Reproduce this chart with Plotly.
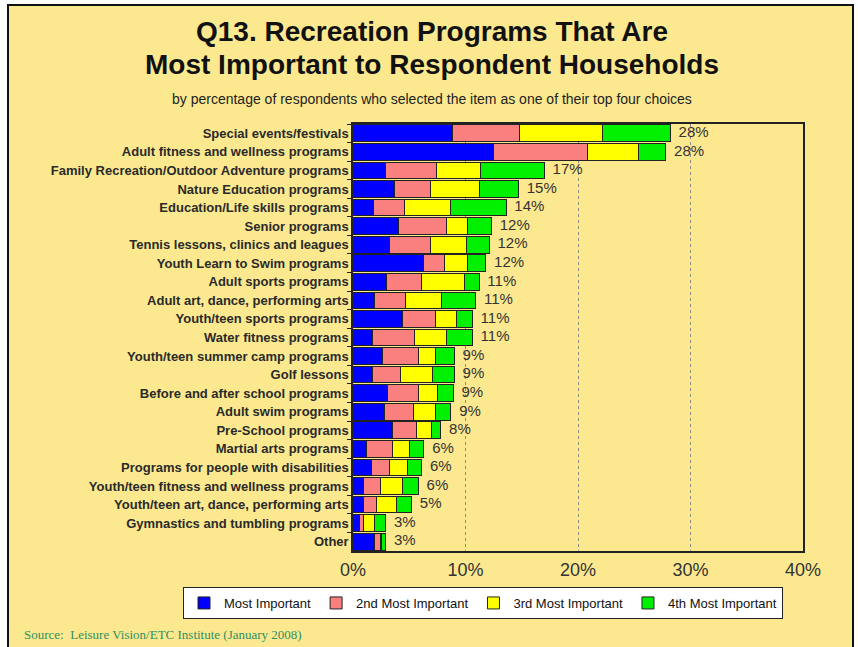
import plotly.graph_objects as go

# Survey results: share of respondents (%) choosing each program as 1st-4th choice
programs = [
    "Special events/festivals",
    "Adult fitness and wellness programs",
    "Family Recreation/Outdoor Adventure programs",
    "Nature Education programs",
    "Education/Life skills programs",
    "Senior programs",
    "Tennis lessons, clinics and leagues",
    "Youth Learn to Swim programs",
    "Adult sports programs",
    "Adult art, dance, performing arts",
    "Youth/teen sports programs",
    "Water fitness programs",
    "Youth/teen summer camp programs",
    "Golf lessons",
    "Before and after school programs",
    "Adult swim programs",
    "Pre-School programs",
    "Martial arts programs",
    "Programs for people with disabilities",
    "Youth/teen fitness and wellness programs",
    "Youth/teen art, dance, performing arts",
    "Gymnastics and tumbling programs",
    "Other",
]
most_important = [8.8, 12.5, 2.9, 3.7, 1.8, 4.0, 3.2, 6.3, 3.0, 1.9, 4.4, 1.7,
                  2.6, 1.7, 3.1, 2.8, 3.5, 1.2, 1.6, 0.9, 0.9, 0.6, 1.9]
second_most = [6.0, 8.3, 4.5, 3.2, 2.8, 4.3, 3.7, 1.8, 3.1, 2.8, 2.9, 3.8,
               3.2, 2.5, 2.7, 2.6, 2.1, 2.3, 1.6, 1.5, 1.2, 0.3, 0.5]
third_most = [7.4, 4.6, 3.9, 4.3, 4.1, 1.9, 3.2, 2.1, 3.8, 3.2, 1.9, 2.8,
              1.5, 2.9, 1.7, 1.9, 1.4, 1.5, 1.6, 2.0, 1.8, 1.0, 0.1]
fourth_most = [6.0, 2.4, 5.7, 3.5, 4.9, 2.1, 2.0, 1.6, 1.3, 3.0, 1.4, 2.3,
               1.7, 1.9, 1.4, 1.4, 0.8, 1.3, 1.3, 1.4, 1.3, 1.0, 0.4]

x_ticks = [0, 10, 20, 30, 40]
x_tick_labels = ["0%", "10%", "20%", "30%", "40%"]

series = [
    ("Most Important", most_important, "#0000FF"),
    ("2nd Most Important", second_most, "#FA7F7F"),
    ("3rd Most Important", third_most, "#FFFF00"),
    ("4th Most Important", fourth_most, "#00F000"),
]

totals = [round(sum(v), 1) for v in zip(most_important, second_most, third_most, fourth_most)]
total_labels = ["  %d%%" % int(t + 0.5) for t in totals]

SANS = "Liberation Sans, Arial, sans-serif"
BG = "#FCE98F"

# figure geometry (px)
W, H = 858, 647
L, R, T, B = 353, 55, 124, 96
PW, PH = W - L - R, H - T - B


def px_x(x):
    return (x - L) / PW


def px_y(y):
    return (H - B - y) / PH


fig = go.Figure()
for name, vals, color in series:
    fig.add_trace(go.Bar(
        y=programs, x=vals, name=name, orientation="h",
        marker=dict(color=color, line=dict(color="#222222", width=1)),
        hoverinfo="x+y+name",
    ))

fig.add_trace(go.Scatter(
    y=programs, x=totals, mode="text", text=total_labels,
    textposition="middle right", cliponaxis=False, showlegend=False,
    textfont=dict(family=SANS, size=15, color="#333333"), hoverinfo="skip",
))

fig.update_layout(
    width=W, height=H,
    margin=dict(l=L, r=R, t=T, b=B, pad=0),
    paper_bgcolor="white", plot_bgcolor="white",
    barmode="stack", bargap=0.1,
    font=dict(family=SANS, color="#222222"),
    showlegend=True,
    legend=dict(
        orientation="h", traceorder="normal",
        x=px_x(183), xanchor="left", y=px_y(587), yanchor="top",
        bgcolor="white", bordercolor="#222222", borderwidth=1,
        font=dict(family=SANS, size=13, color="#111111"),
        itemwidth=30,
    ),
    xaxis=dict(
        range=[0, 40], tickmode="array", tickvals=x_ticks, ticktext=x_tick_labels,
        showgrid=True, gridcolor="#8a8a8a", griddash="dot", gridwidth=1,
        zeroline=False, showline=True, linecolor="#222222", linewidth=1.5, mirror=True,
        tickfont=dict(family=SANS, size=18, color="#333333"), ticks="",
        ticklabelstandoff=2,
    ),
    yaxis=dict(
        type="category", categoryorder="array", categoryarray=programs,
        range=[len(programs) - 0.5, -0.5], autorange=False,
        showgrid=False, zeroline=False,
        showline=True, linecolor="#222222", linewidth=1.5, mirror=True,
        ticks="outside", tickson="boundaries", ticklen=4, tickcolor="#222222",
        tickfont=dict(family=SANS, size=13, color="#2a2a2a", weight="bold"),
    ),
    shapes=[
        dict(type="rect", xref="paper", yref="paper", layer="below",
             x0=px_x(8), x1=px_x(853), y0=px_y(665), y1=px_y(5),
             fillcolor=BG, line=dict(color="#111111", width=2)),
    ],
    annotations=[
        dict(text="<b>Q13. Recreation Programs That Are</b>", xref="paper", yref="paper",
             x=px_x(432), y=px_y(32), xanchor="center", yanchor="middle", showarrow=False,
             font=dict(family=SANS, size=28, color="#111111")),
        dict(text="<b>Most Important to Respondent Households</b>", xref="paper", yref="paper",
             x=px_x(432), y=px_y(64), xanchor="center", yanchor="middle", showarrow=False,
             font=dict(family=SANS, size=28, color="#111111")),
        dict(text="by percentage of respondents who selected the item as one of their top four choices",
             xref="paper", yref="paper", x=px_x(432), y=px_y(99), xanchor="center",
             yanchor="middle", showarrow=False,
             font=dict(family=SANS, size=14, color="#222222")),
        dict(text="Source:  Leisure Vision/ETC Institute (January 2008)", xref="paper", yref="paper",
             x=px_x(22), y=px_y(634), xanchor="left", yanchor="middle", showarrow=False,
             font=dict(family="Liberation Serif, Times New Roman, serif", size=13, color="#2F8F5F")),
    ],
)

fig.write_html("out.html")
